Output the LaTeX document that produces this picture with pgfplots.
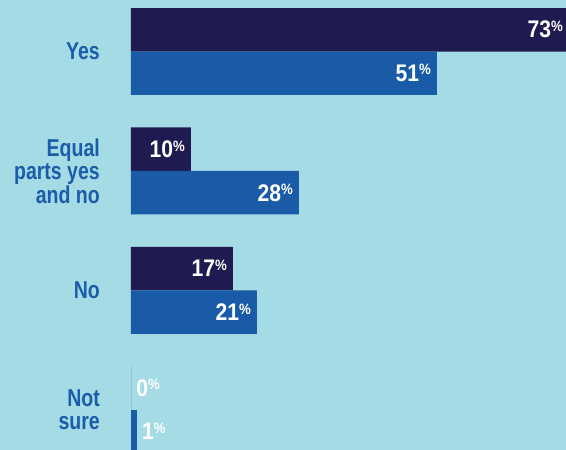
\documentclass[border=0pt]{standalone}
\usepackage{pgfplots}
\pgfplotsset{compat=1.18}
\usepackage{fontspec}
\setmainfont{Liberation Sans}
\newfontfamily\cond{Liberation Sans}[FakeStretch=0.8]
\newfontfamily\condv{Liberation Sans}[FakeStretch=0.88]

\definecolor{bgc}{HTML}{A5DBE5}
\definecolor{darkc}{HTML}{1F1A50}
\definecolor{bluec}{HTML}{1A5BA8}
\definecolor{labc}{HTML}{1B5DAA}

\newcommand{\pct}{\raisebox{6.5pt}{\smash{\fontsize{15}{15}\selectfont\%}}}

\begin{document}
\begin{tikzpicture}
	\fill[bgc, use as bounding box] (0,0) rectangle (566pt,450pt);
	\begin{axis}[
		at={(131pt,0pt)}, anchor=south west,
		scale only axis, width=438pt, height=450pt,
		xmin=0, xmax=73,
		ymin=-0.431, ymax=3.335, y dir=reverse,
		axis line style={draw=none}, major tick length=0pt,
		xtick=\empty, ytick={0,1,2,3},
		yticklabels={Yes, {Equal\\parts yes\\and no}, No, {Not\\sure}},
		yticklabel style={font=\cond\bfseries\fontsize{24.4}{23.5}\selectfont, text=labc,
			align=right, anchor=east, inner sep=0pt, xshift=-31pt},
		xbar, bar width=0.364,
		/pgf/number format/assume math mode=true,
		nodes near coords={\pgfmathprintnumber{\pgfplotspointmeta}\pct},
		every node near coord/.append style={font=\condv\bfseries\fontsize{24}{24}\selectfont, text=white, inner sep=0pt},
	]
		% dark series (first row of each pair)
		\addplot[fill=darkc, draw=none, bar shift=-0.182,
			every node near coord/.append style={anchor=east, xshift=-6pt}]
			coordinates {(73,0) (10,1) (17,2)};
		\addplot[fill=darkc, draw=darkc, line width=1pt, bar shift=-0.182,
			every node near coord/.append style={anchor=west, xshift=5pt}]
			coordinates {(0,3)};
		% blue series
		\addplot[fill=bluec, draw=none, bar shift=0.182,
			every node near coord/.append style={anchor=east, xshift=-6pt}]
			coordinates {(51,0) (28,1) (21,2)};
		\addplot[fill=bluec, draw=none, bar shift=0.182,
			every node near coord/.append style={anchor=west, xshift=5pt}]
			coordinates {(1,3)};
	\end{axis}
\end{tikzpicture}
\end{document}
